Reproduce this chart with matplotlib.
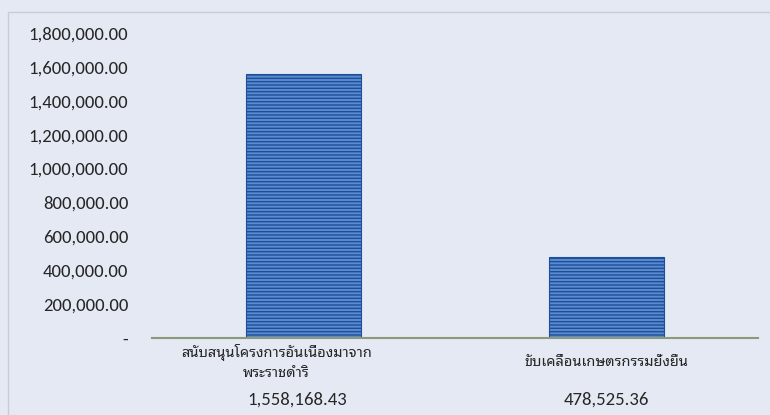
import matplotlib.pyplot as plt
import matplotlib.patches as mpatches
from matplotlib import font_manager

categories = ['สนับสนุนโครงการอันเนื่องมาจาก\nพระราชดำริ', 'ขับเคลื่อนเกษตรกรรมยั่งยืน']
values = [1558168.43, 478525.36]
yticks = [0, 200000, 400000, 600000, 800000, 1000000, 1200000, 1400000, 1600000, 1800000]

installed = set(f.name for f in font_manager.fontManager.ttflist)
num_font = 'Carlito' if 'Carlito' in installed else 'Open Sans'
thai_font = 'Noto Sans Thai Looped'
plt.rcParams['font.family'] = [num_font, thai_font, 'DejaVu Sans']

fig = plt.figure(figsize=(7.7, 4.15), dpi=100)
fig.patch.set_facecolor('#e4e9f3')
ax = fig.add_axes([152 / 770, 1 - 338 / 415, 606 / 770, (338 - 33) / 415])
ax.set_facecolor('none')

ax.bar(range(len(values)), values, width=0.38, color='#5a8ad0', edgecolor='#1f4f96',
       hatch='-----', linewidth=0.8)

ax.set_xlim(-0.5, 1.5)
ax.set_ylim(0, 1800000)
ax.set_yticks(yticks)
ax.set_yticklabels(['-' if v == 0 else f'{v:,.2f}' for v in yticks])
ax.tick_params(axis='y', length=0, pad=17, labelsize=13.5, labelcolor='#262626')
ax.set_xticks([])
for s in ['top', 'right', 'left']:
    ax.spines[s].set_visible(False)
ax.spines['bottom'].set_color('#8a9a7a')
ax.spines['bottom'].set_linewidth(1.5)

# the wrapped first label sits a little left of its bar in the original
label_shift = [-0.09, 0.0]
value_shift = [-0.02, 0.0]
for i, (c, v) in enumerate(zip(categories, values)):
    ax.text(i + label_shift[i], -0.08, c, transform=ax.get_xaxis_transform(),
            ha='center', va='center', fontsize=10.5, color='#262626',
            family=[thai_font, 'DejaVu Sans'], linespacing=1.4)
    ax.text(i + value_shift[i], -0.203, f'{v:,.2f}', transform=ax.get_xaxis_transform(),
            ha='center', va='center', fontsize=13.5, color='#262626')

fig.patches.append(mpatches.Rectangle((8 / 770, -0.05), 1, 1 - 12 / 415 + 0.05,
                                      transform=fig.transFigure, fill=False,
                                      edgecolor='#c9ccd0', linewidth=1))

fig.savefig('out.png', dpi=100)
